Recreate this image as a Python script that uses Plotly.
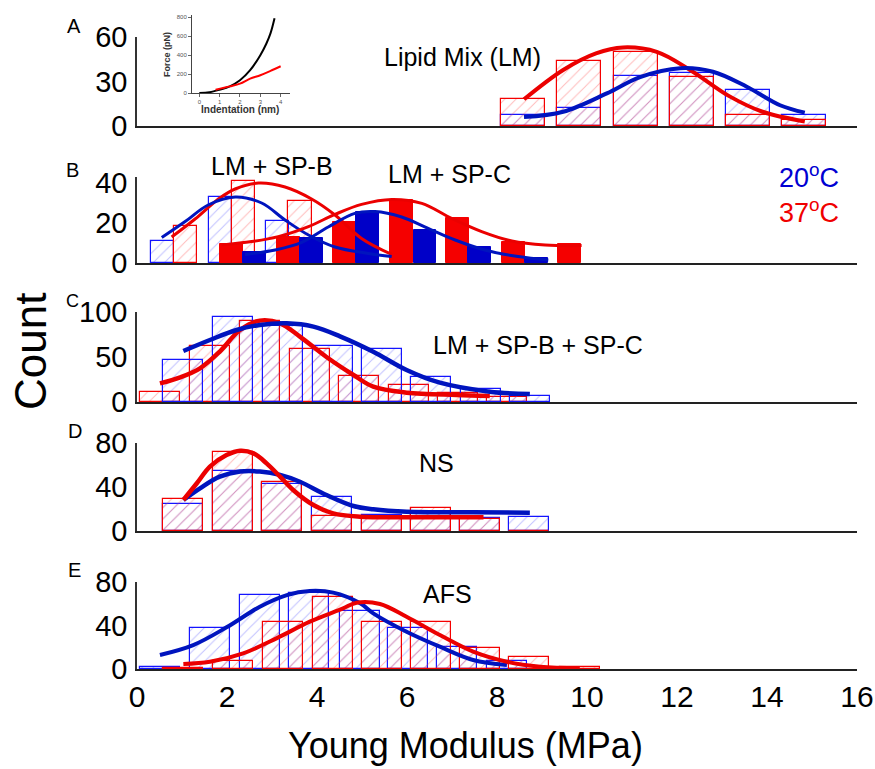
import plotly.graph_objects as go

# ---------------- data ----------------
# Panel A: Lipid Mix (LM)
a_bins = [8.58, 9.83, 11.08, 12.33, 13.58, 14.83]
a_red = [18, 44, 50, 33, 7.5, 4]
a_blue = [7.5, 12, 34, 36, 24, 7.5]
a_red_fit_x = [8.6, 9.47, 10.2, 10.8, 11.55, 12.29, 13.18, 13.9, 14.84]
a_red_fit_y = [18, 37.8, 49, 53, 50, 37.8, 19.8, 9.6, 3]
a_blue_fit_x = [8.6, 9.47, 10.44, 11.18, 12.07, 12.8, 13.55, 14.29, 14.84]
a_blue_fit_y = [6, 9.6, 22, 33, 39, 36.6, 26.5, 14, 9]

# Inset: force vs indentation
ins_black_x = [0, 0.5, 1.0, 1.5, 2.0, 2.5, 3.0, 3.3, 3.5, 3.7]
ins_black_y = [0, 8, 35, 71, 135, 241, 400, 524, 630, 790]
ins_red_x = [0.8, 1.5, 2.0, 2.5, 3.0, 3.5, 4.0]
ins_red_y = [35, 70, 99, 152, 188, 234, 283]

# Panel B: LM + SP-B (hatched) and LM + SP-C (filled)
b_spb_blue_x = [0.57, 1.86, 3.12]
b_spb_blue = [11, 33, 21]
b_spb_red_x = [1.08, 2.37, 3.62]
b_spb_red = [18.5, 41, 31]
b_spc_red_x = [2.1, 3.37, 4.61, 5.88, 7.12, 8.37, 9.62]
b_spc_red = [9.5, 13, 20.5, 31.5, 22.5, 10.5, 9.5]
b_spc_blue_x = [2.62, 3.88, 5.13, 6.4, 7.62, 8.88]
b_spc_blue = [5.5, 12.5, 25.5, 16.5, 8, 2.5]
b_spb_blue_fit_x = [0.55, 1.07, 1.58, 2.18, 2.77, 3.29, 3.81, 4.4, 5.14, 5.66]
b_spb_blue_fit_y = [12.7, 20.7, 29, 33, 30, 21.5, 14, 8, 4.8, 3.2]
b_spb_red_fit_x = [0.77, 1.29, 1.81, 2.18, 2.7, 3.29, 3.88, 4.4, 4.99, 5.66]
b_spb_red_fit_y = [13, 22, 32, 37, 40, 38, 32, 24, 12.3, 4.3]
b_spc_blue_fit_x = [2.4, 3.07, 3.66, 4.25, 4.84, 5.29, 5.88, 6.47, 7.07, 7.73, 8.47, 9.14]
b_spc_blue_fit_y = [4.3, 6.5, 10.3, 18, 24.8, 25.7, 23, 17.3, 11.5, 6.5, 3.2, 1.5]
b_spc_red_fit_x = [1.88, 2.55, 3.14, 3.81, 4.4, 4.99, 5.66, 6.33, 6.99, 7.66, 8.33, 9.07, 9.88]
b_spc_red_fit_y = [9, 10.7, 13.2, 18.2, 24.3, 29.3, 31.8, 29.8, 22.3, 15.7, 11, 9, 8.7]

# Panel C: LM + SP-B + SP-C
c_red_x = [0.51, 1.62, 2.73, 3.84, 4.93, 6.04, 7.13, 8.22]
c_red = [11.5, 62, 90, 59, 29, 19, 10, 5.5]
c_blue_x = [1.02, 2.13, 3.24, 4.35, 5.44, 6.54, 7.65, 8.74]
c_blue = [46.7, 95, 85, 62, 59, 28, 14, 6.7]
c_blue_fit_x = [1.03, 1.62, 2.21, 2.73, 3.33, 3.92, 4.51, 5.25, 5.99, 6.73, 7.84, 8.73]
c_blue_fit_y = [56.7, 68.9, 80, 85.6, 87.4, 83.7, 73, 55.9, 35.6, 21.5, 11.5, 8.9]
c_red_fit_x = [0.51, 0.96, 1.4, 1.84, 2.29, 2.73, 3.18, 3.62, 4.21, 4.81, 5.25, 5.99, 7.1, 7.84]
c_red_fit_y = [20.7, 27.4, 37.4, 56, 80, 90.4, 87.4, 72.6, 50, 30, 17, 10.4, 7.8, 6.7]

# Panel D: NS
d_bins = [1.02, 2.13, 3.22, 4.33, 5.44, 6.54, 7.63, 8.72]
d_red = [29, 71.5, 45, 14, 11.5, 21, 11, 0]
d_blue = [25, 55, 43, 31, 15, 17.5, 11.5, 13]
d_red_fit_x = [1.03, 1.33, 1.62, 1.99, 2.29, 2.59, 2.88, 3.18, 3.47, 3.92, 4.36, 4.96, 5.99, 7.7]
d_red_fit_y = [28.2, 43.4, 58.5, 69, 73, 70.6, 61.5, 49.4, 37.3, 23.6, 16, 13, 12.4, 12.4]
d_blue_fit_x = [1.03, 1.4, 1.84, 2.29, 2.73, 3.18, 3.62, 4.21, 4.81, 5.25, 5.99, 7.47, 8.73]
d_blue_fit_y = [28.2, 38.8, 49.4, 54, 54, 51, 44.8, 32.7, 22.7, 19.7, 17.5, 17, 16.6]

# Panel E: AFS
e_blue_x = [0.51, 1.62, 2.73, 3.83, 4.96, 6.02, 7.12, 8.23]
e_blue = [1.5, 38, 68, 69.5, 53.5, 38, 20, 7]
e_red_x = [1.02, 2.13, 3.24, 4.36, 5.44, 6.54, 7.63, 8.72, 9.84]
e_red = [1, 7, 43, 66, 43.5, 43.5, 19, 11, 2]
e_blue_fit_x = [0.51, 1.25, 1.99, 2.73, 3.33, 3.84, 4.36, 4.96, 5.25, 5.99, 6.73, 7.47, 8.22]
e_blue_fit_y = [12.9, 22, 38.3, 57.3, 68, 71.7, 70.2, 60.4, 51.2, 34.3, 20.5, 8.3, 3.7]
e_red_fit_x = [1.03, 1.62, 2.36, 3.1, 3.84, 4.58, 4.88, 5.4, 5.99, 6.73, 7.47, 8.22, 8.96, 9.84]
e_red_fit_y = [4.6, 6.7, 14.4, 28.2, 43.5, 55.8, 61, 59.8, 48, 31.3, 16, 6.7, 2.1, 0.6]

x_ticks = [0, 2, 4, 6, 8, 10, 12, 14, 16]
ins_x_ticks = [0, 1, 2, 3, 4]
ins_y_ticks = [0, 200, 400, 600, 800]

# ---------------- styling ----------------
W, H = 875, 769
FONT = "Liberation Sans, Arial, sans-serif"
RED = "rgb(245,0,0)"
BLUE = "rgb(20,20,255)"
RED_LINE = "rgb(235,0,0)"
BLUE_LINE = "rgb(0,20,190)"


def fx(p):
    return p / W


def fy(p):
    return 1 - p / H


fig = go.Figure()


def hatched(x, y, ax, color, hatch, width):
    fig.add_trace(go.Bar(
        x=x, y=y, width=width, xaxis="x" + ax, yaxis="y" + ax,
        marker=dict(color="rgba(0,0,0,0)", line=dict(color=color, width=1.2),
                    pattern=dict(shape="/", fgcolor=hatch, bgcolor="rgba(0,0,0,0)",
                                 size=8, solidity=0.12)),
        showlegend=False, hoverinfo="skip"))


def filled(x, y, ax, color, width):
    fig.add_trace(go.Bar(
        x=x, y=y, width=width, xaxis="x" + ax, yaxis="y" + ax,
        marker=dict(color=color, line=dict(color=color, width=1)),
        showlegend=False, hoverinfo="skip"))


def curve(x, y, ax, color, w):
    fig.add_trace(go.Scatter(
        x=x, y=y, xaxis="x" + ax, yaxis="y" + ax, mode="lines",
        line=dict(color=color, width=w, shape="spline", smoothing=1.0),
        showlegend=False, hoverinfo="skip"))


RH = "rgba(255,70,70,0.75)"
BH = "rgba(70,70,255,0.7)"

# A
hatched(a_bins, a_blue, "", BLUE, BH, 0.98)
hatched(a_bins, a_red, "", RED, RH, 0.98)
curve(a_red_fit_x, a_red_fit_y, "", RED_LINE, 4)
curve(a_blue_fit_x, a_blue_fit_y, "", BLUE_LINE, 4)

# B
hatched(b_spb_blue_x, b_spb_blue, "2", BLUE, BH, 0.5)
hatched(b_spb_red_x, b_spb_red, "2", RED, RH, 0.52)
filled(b_spc_red_x, b_spc_red, "2", RED, 0.51)
filled(b_spc_blue_x, b_spc_blue, "2", "rgb(0,0,200)", 0.51)
curve(b_spb_red_fit_x, b_spb_red_fit_y, "2", RED_LINE, 3)
curve(b_spb_blue_fit_x, b_spb_blue_fit_y, "2", BLUE_LINE, 3)
curve(b_spc_red_fit_x, b_spc_red_fit_y, "2", RED_LINE, 3)
curve(b_spc_blue_fit_x, b_spc_blue_fit_y, "2", BLUE_LINE, 3)

# C
hatched(c_red_x, c_red, "3", RED, RH, 0.89)
hatched(c_blue_x, c_blue, "3", BLUE, BH, 0.89)
curve(c_red_fit_x, c_red_fit_y, "3", RED_LINE, 4.5)
curve(c_blue_fit_x, c_blue_fit_y, "3", BLUE_LINE, 4.5)

# D
hatched(d_bins, d_blue, "4", BLUE, BH, 0.89)
hatched(d_bins, d_red, "4", RED, RH, 0.89)
curve(d_blue_fit_x, d_blue_fit_y, "4", BLUE_LINE, 4.5)
curve(d_red_fit_x, d_red_fit_y, "4", RED_LINE, 4.5)

# E
hatched(e_blue_x, e_blue, "5", BLUE, BH, 0.89)
hatched(e_red_x, e_red, "5", RED, RH, 0.89)
curve(e_blue_fit_x, e_blue_fit_y, "5", BLUE_LINE, 4)
curve(e_red_fit_x, e_red_fit_y, "5", RED_LINE, 4)

# Inset
fig.add_trace(go.Scatter(x=ins_black_x, y=ins_black_y, xaxis="x6", yaxis="y6", mode="lines",
                         line=dict(color="black", width=2, shape="spline"),
                         showlegend=False, hoverinfo="skip"))
fig.add_trace(go.Scatter(x=ins_red_x, y=ins_red_y, xaxis="x6", yaxis="y6", mode="lines",
                         line=dict(color="red", width=2, shape="spline"),
                         showlegend=False, hoverinfo="skip"))

XD = [fx(137), fx(857)]
panels = {
    "": ([37, 126], [0, 60], [0, 30, 60]),
    "2": ([177, 263], [0, 43], [0, 20, 40]),
    "3": ([312, 402], [0, 100], [0, 50, 100]),
    "4": ([443, 531], [0, 80], [0, 40, 80]),
    "5": ([582, 669], [0, 80], [0, 40, 80]),
}

layout = dict(
    width=W, height=H, margin=dict(l=0, r=0, t=0, b=0, autoexpand=False),
    paper_bgcolor="white", plot_bgcolor="rgba(0,0,0,0)",
    barmode="overlay", bargap=0, showlegend=False,
    font=dict(family=FONT, color="black"),
)

for k, (pyd, rng, tv) in panels.items():
    xa = "xaxis" + k
    ya = "yaxis" + k
    layout[xa] = dict(domain=XD, range=[0, 16], anchor="y" + k, showline=True,
                      linecolor="#222", linewidth=2, ticks="", showgrid=False,
                      zeroline=False, showticklabels=(k == "5"), automargin=False,
                      tickvals=x_ticks, tickfont=dict(size=30, family=FONT, color="black"),
                      fixedrange=True)
    layout[ya] = dict(domain=[fy(pyd[1]), fy(pyd[0])], range=rng, anchor="x" + k,
                      showline=True, linecolor="#333", linewidth=1.5, ticks="",
                      showgrid=False, zeroline=False, tickvals=tv, automargin=False,
                      tickfont=dict(size=29, family=FONT, color="black"),
                      ticklabelstandoff=2, fixedrange=True)

layout["xaxis6"] = dict(domain=[fx(192), fx(290)], range=[-0.36, 4.46], anchor="y6",
                        showline=True, linecolor="#444", linewidth=1, ticks="outside",
                        ticklen=3, tickcolor="#666", tickvals=ins_x_ticks, automargin=False,
                        tickfont=dict(size=6, color="#555", family=FONT),
                        showgrid=False, zeroline=False, fixedrange=True)
layout["yaxis6"] = dict(domain=[fy(93), fy(15)], range=[0, 825], anchor="x6",
                        showline=True, linecolor="#444", linewidth=1, ticks="outside",
                        ticklen=3, tickcolor="#666", tickvals=ins_y_ticks, automargin=False,
                        tickfont=dict(size=6, color="#555", family=FONT),
                        showgrid=False, zeroline=False, fixedrange=True)


def ann(text, x, y, size, color="black", angle=0, bold=False):
    return dict(text=("<b>%s</b>" % text) if bold else text, x=fx(x), y=fy(y),
                xref="paper", yref="paper", showarrow=False, xanchor="center",
                yanchor="middle", textangle=angle,
                font=dict(size=size, color=color, family=FONT))


layout["annotations"] = [
    ann("A", 74, 26, 20), ann("B", 72, 170, 20), ann("C", 72, 301, 18),
    ann("D", 75, 431, 20), ann("E", 74, 570, 20),
    ann("Lipid Mix (LM)", 462, 57, 25),
    ann("LM + SP-B", 272, 166, 25),
    ann("LM + SP-C", 450, 174, 25),
    ann("20<sup>o</sup>C", 809, 176, 27, color="rgb(0,0,210)"),
    ann("37<sup>o</sup>C", 809, 211, 27, color="rgb(240,0,0)"),
    ann("LM + SP-B + SP-C", 538, 345, 25),
    ann("NS", 436, 463, 25),
    ann("AFS", 447, 594, 25),
    ann("Count", 30, 352, 44, angle=-90),
    ann("Young Modulus (MPa)", 465, 745, 36),
    ann("Force (pN)", 167, 55, 9, color="#333", angle=-90, bold=True),
    ann("Indentation (nm)", 240, 109, 10, color="#333", bold=True),
]

fig.update_layout(**layout)
fig.write_html("out.html", config={"displayModeBar": False},
               post_script="document.body.style.margin='0px';document.body.style.padding='0px';")
